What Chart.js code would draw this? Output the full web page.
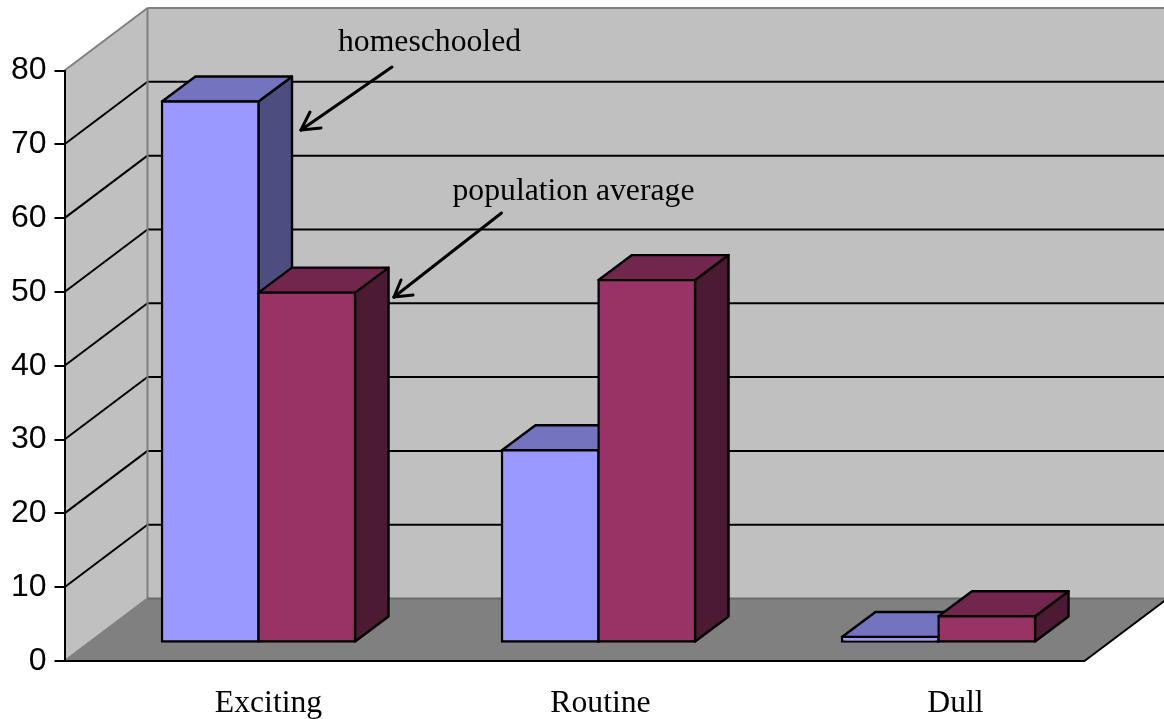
<!DOCTYPE html>
<html>
<head>
<meta charset="utf-8">
<style>html,body{margin:0;padding:0;background:#fff}#wrap{width:1164px;height:719px;position:relative}</style>
<script src="https://cdn.jsdelivr.net/npm/chart.js@4"></script>
</head>
<body>
<div id="wrap"><canvas id="c" width="1164" height="719"></canvas></div>
<script>
const categories = ['Exciting', 'Routine', 'Dull'];
const homeschooled = [73.3, 26.05, 0.75];
const populationAverage = [47.4, 49.1, 3.55];
const yTicks = [0, 10, 20, 30, 40, 50, 60, 70, 80];

const seriesColors = [
  {front: '#9999FF', top: '#7373BF', side: '#4D4D80'},
  {front: '#993366', top: '#73264D', side: '#4D1A33'}
];
const wallDepth = {dx: 83, dy: -62.5};
const barInset = {dx: 24, dy: -18.5};
const barDepth = {dx: 33.5, dy: -25};
const labelShift = [34, 26, 41];
const WIDTH = 1164;

function poly(ctx, pts, fill, stroke, lw) {
  ctx.beginPath();
  pts.forEach((p, i) => i ? ctx.lineTo(p[0], p[1]) : ctx.moveTo(p[0], p[1]));
  ctx.closePath();
  if (fill) { ctx.fillStyle = fill; ctx.fill(); }
  if (stroke) { ctx.strokeStyle = stroke; ctx.lineWidth = lw; ctx.stroke(); }
}
function seg(ctx, x0, y0, x1, y1, color, lw) {
  ctx.beginPath(); ctx.moveTo(x0, y0); ctx.lineTo(x1, y1);
  ctx.strokeStyle = color; ctx.lineWidth = lw; ctx.stroke();
}

const box3d = {
  id: 'box3d',
  beforeDraw(chart) {
    const {ctx, chartArea: a, scales: {y}} = chart;
    const {dx, dy} = wallDepth;
    const L = a.left, R = a.right, B = y.getPixelForValue(0), T = y.getPixelForValue(80);
    ctx.save();
    poly(ctx, [[L + dx, T + dy], [WIDTH + 2, T + dy], [WIDTH + 2, B + dy], [L + dx, B + dy]], '#C0C0C0');
    poly(ctx, [[L, T], [L + dx, T + dy], [L + dx, B + dy], [L, B]], '#C0C0C0');
    poly(ctx, [[L, B], [L + dx, B + dy], [R + dx, B + dy], [R, B]], '#808080');
    yTicks.filter(v => v > 0 && v < 80).forEach(v => {
      const p = y.getPixelForValue(v);
      seg(ctx, L, p, L + dx, p + dy, '#000', 2);
      seg(ctx, L + dx, p + dy, WIDTH, p + dy, '#000', 2);
    });
    seg(ctx, L, T, L + dx, T + dy, '#808080', 2);
    seg(ctx, L + dx, T + dy, WIDTH, T + dy, '#808080', 2);
    seg(ctx, L + dx, T + dy, L + dx, B + dy, '#808080', 2);
    seg(ctx, L, B, L + dx, B + dy, '#808080', 2);
    seg(ctx, L + dx, B + dy, WIDTH, B + dy, '#6a6a6a', 2);
    seg(ctx, R, B, R + dx, B + dy, '#000', 2);
    ctx.restore();
  },
  // Draw the series left to right so each bar's 3D sides sit behind the next bar.
  beforeDatasetsDraw(chart) {
    const {ctx} = chart;
    const {dx, dy} = barDepth;
    chart.getSortedVisibleDatasetMetas().forEach((meta, idx) => {
      const c = seriesColors[idx];
      ctx.save();
      ctx.translate(barInset.dx, barInset.dy);
      ctx.lineJoin = 'round';
      meta.data.forEach(el => {
        const p = el.getProps(['x', 'y', 'base', 'width'], true);
        const l = p.x - p.width / 2, r = p.x + p.width / 2;
        poly(ctx, [[r, p.y], [r + dx, p.y + dy], [r + dx, p.base + dy], [r, p.base]], c.side, '#000', 2.4);
        poly(ctx, [[l, p.y], [l + dx, p.y + dy], [r + dx, p.y + dy], [r, p.y]], c.top, '#000', 2.4);
      });
      meta.controller.draw();
      ctx.restore();
    });
    return false;
  },
  afterDraw(chart) {
    const {ctx, scales: {x}} = chart;
    ctx.save();
    ctx.fillStyle = '#000';
    ctx.textBaseline = 'alphabetic';
    ctx.font = '31.7px "Liberation Serif"';
    ctx.textAlign = 'center';
    x.getLabels().forEach((t, i) => ctx.fillText(t, x.getPixelForValue(i) + labelShift[i], 712));
    ctx.textAlign = 'left';
    ctx.fillText('homeschooled', 338, 51);
    ctx.fillText('population average', 452.5, 200);
    ctx.lineCap = 'round';
    seg(ctx, 392, 67, 301, 130, '#000', 3);
    seg(ctx, 310, 112, 301, 130, '#000', 3);
    seg(ctx, 321, 128, 301, 130, '#000', 3);
    seg(ctx, 501.5, 213, 394, 297, '#000', 3);
    seg(ctx, 401, 280, 394, 297, '#000', 3);
    seg(ctx, 413, 295, 394, 297, '#000', 3);
    ctx.restore();
  }
};

const barStyle = {
  borderColor: '#000', borderWidth: 2.4, borderSkipped: false, inflateAmount: 1.2,
  barPercentage: 1, categoryPercentage: 0.568, clip: false
};

new Chart(document.getElementById('c'), {
  type: 'bar',
  data: {
    labels: categories,
    datasets: [
      Object.assign({label: 'homeschooled', data: homeschooled, backgroundColor: seriesColors[0].front}, barStyle),
      Object.assign({label: 'population average', data: populationAverage, backgroundColor: seriesColors[1].front}, barStyle)
    ]
  },
  plugins: [box3d],
  options: {
    responsive: false,
    animation: false,
    devicePixelRatio: 1,
    layout: {padding: {left: 0, right: 79.5, top: 70.5, bottom: 0}},
    plugins: {legend: {display: false}, title: {display: false}, tooltip: {enabled: false}},
    scales: {
      x: {
        grid: {display: false},
        border: {display: true, color: '#000', width: 2},
        ticks: {display: false},
        afterFit(s) { s.height = 58; }
      },
      y: {
        min: 0, max: 80,
        afterBuildTicks(s) { s.ticks = yTicks.map(v => ({value: v})); },
        grid: {drawOnChartArea: false, drawTicks: true, tickLength: 10, tickColor: '#000', lineWidth: 2, color: '#000'},
        border: {display: true, color: '#000', width: 2},
        ticks: {color: '#000', font: {family: '"Liberation Sans"', size: 32}, padding: 8},
        afterFit(s) { s.width = 64.5; }
      }
    }
  }
});
</script>
</body>
</html>
